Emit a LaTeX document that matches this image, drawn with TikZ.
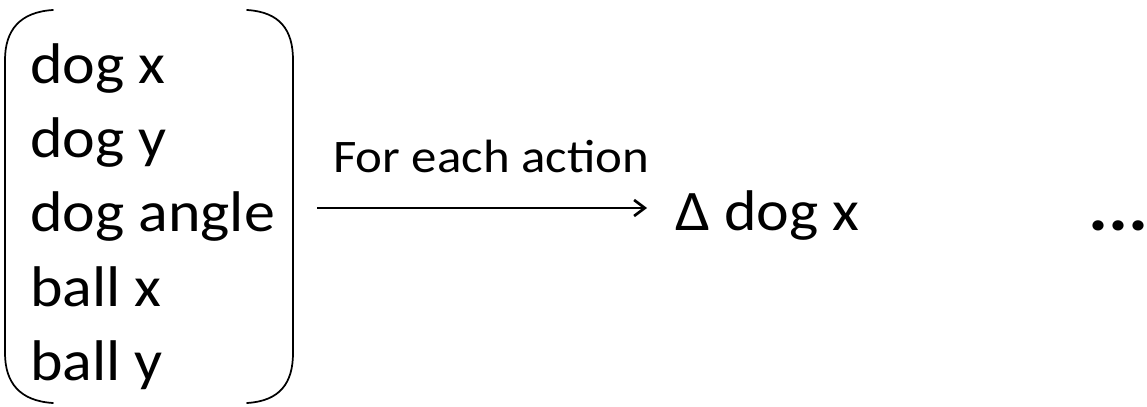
\documentclass[tikz,border=0pt]{standalone}
\usepackage{fontspec}
\setmainfont{Carlito}[FakeStretch=1.08]
\newfontfamily\labelfont{Carlito}[FakeStretch=1.09]
\usetikzlibrary{arrows.meta}
\begin{document}
\begin{tikzpicture}[x=0.75pt,y=-0.75pt,
  item/.style={anchor=base west,inner sep=0pt,font=\fontsize{43}{50}\selectfont},
  label/.style={anchor=base west,inner sep=0pt,font=\labelfont\fontsize{35}{42}\selectfont},
  dots/.style={anchor=base west,inner sep=0pt,font=\bfseries\fontsize{52}{56}\selectfont},
  bracket/.style={line width=1.3pt,line cap=round},
  flow/.style={line width=0.9pt,-{Straight Barb[length=8pt,width=12pt,line width=2pt]}}]
\useasboundingbox (0,0) rectangle (1147,407);

% state variables
\node[item] (dx) at (30,83) {dog x};
\node[item] (dy) at (30,157) {dog y};
\node[item] (da) at (30,231) {dog angle};
\node[item] (bx) at (30,306) {ball x};
\node[item] (by) at (30,380) {ball y};

% enclosing parentheses
\draw[bracket] (53,10) .. controls (20,12) and (5,30) .. (5,60) -- (5,353)
  .. controls (5,383) and (20,401) .. (53,403);
\draw[bracket] (247,10) .. controls (280,12) and (293,30) .. (293,60) -- (293,353)
  .. controls (293,383) and (280,401) .. (247,403);

% transition
\node[label] (act) at (333,172) {For each action};
\node[item] (delta) at (675,230) {Δ dog x};
\coordinate (src) at (317,208);
\coordinate (dst) at (647,208);
\draw[flow] (src) -- (dst);

\node[dots] (more) at (1088,230) {...};
\end{tikzpicture}
\end{document}
